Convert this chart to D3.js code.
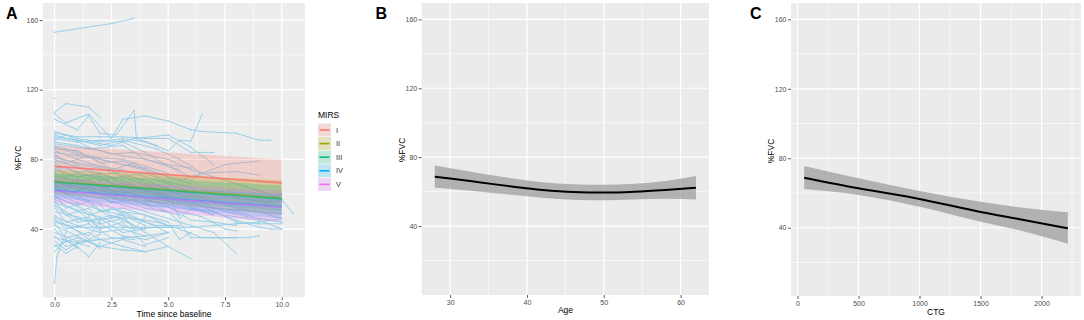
<!DOCTYPE html>
<html>
<head>
<meta charset="utf-8">
<script src="https://cdn.jsdelivr.net/npm/d3@7"></script>
<style>
body { margin: 0; background: #fff; }
svg { display: block; font-family: "Liberation Sans", Arial, sans-serif; }
</style>
</head>
<body>
<div id="chart"></div>
<script>
const width = 1084, height = 320;

// panel A - MIRS groups, fitted lines with ribbons
const mirsLevels = ["I", "II", "III", "IV", "V"];
const mirsColors = ["#F8766D", "#A3A500", "#00BF7D", "#00B0F6", "#E76BF3"];
const mirsTime = [0, 10];
const mirsFit = [[76, 66.5], [67.3, 57.8], [67, 57.3], [62.3, 52.8], [62, 52.5]];
const mirsLo = [[64, 53], [60, 48], [62, 50], [58, 46], [55, 44]];
const mirsHi = [[88, 80], [74, 68], [72, 65], [67, 60], [69, 62]];

// individual trajectories [time, %FVC]
const patients = [
    [[0,153],[2.5,158],[3.5,161]],
    [[0,115]],
    [[0,107],[0.5,112],[1.5,110],[2,104]],
    [[0,106],[0.5,101],[1.5,106],[2.5,92],[3,103],[4,105],[5,102],[6,97],[6.5,96],[8,95],[9,91],[9.5,91]],
    [[0,103],[1,97],[1.5,105],[2,95],[2.7,94],[3.5,108],[3.6,92],[4.5,88]],
    [[0,96],[1,92],[2,90],[3,92],[4,90],[5,85],[5.5,91],[6,90.5],[6.5,106]],
    [[0,95],[1,93],[2,93],[3,93],[4,92],[5,92],[6,84],[7,84]],
    [[0,94],[0.5,92],[1.5,90],[2.5,88],[3.5,92],[5,94],[6,87],[7,77]],
    [[0,93],[1,91],[2,88],[3,91],[4.5,86],[5.5,80],[6.5,72]],
    [[0,92],[1,90],[2,91],[3,90],[4,84],[5,76],[6,70]],
    [[0,91],[0.5,94],[1.5,87],[2.5,83],[3.5,84],[5,80],[6,74],[7,70],[8,66],[9,62],[10,57],[10.5,49]],
    [[0,90],[1,88],[2,85],[3,82],[4,80],[5,77],[6,75]],
    [[0,89],[1.5,86],[3,88],[4,80],[5.5,74]],
    [[0,88],[1,84],[2,80],[3,77],[4,75],[5,70],[6,68],[6.5,72],[7.5,77],[9,79]],
    [[0,87],[1,83],[2,81],[3,80],[4,76],[5,72]],
    [[0,86],[1,85],[2,78],[3,79],[4,74]],
    [[0,85],[1,80],[2,76],[3,74],[4,70],[5,66],[6,61],[7,60],[8,58],[9,56],[10,56]],
    [[0,84],[1,82],[2,80],[3,77],[4.5,72],[5,70],[6,66]],
    [[0,83],[0.5,78],[1.5,82],[2.5,74],[3.5,78],[4.5,70],[5.5,68],[6.5,72],[8,73],[9,71]],
    [[0,82],[1,77],[2,75],[3,70],[4,72],[5,67],[6,64]],
    [[0,81],[1,78],[2,76],[3,71],[4,68],[5,63],[6,60],[7,56],[8,52],[9,50],[10,46]],
    [[0,80],[1,75],[2,71],[3,73],[4,66],[5,64]],
    [[0,79],[1,76],[2,72],[3,68],[4,62],[5,58],[6,55],[7,52],[8,50],[9,46],[10,44]],
    [[0,78],[1,72],[2,70],[3,64],[4,62],[5,60],[5.5,46],[6,52],[7,48]],
    [[0,77],[0.5,70],[1.5,74],[2.5,66],[3.5,64],[4.5,60],[5.5,58],[6.5,55],[7.5,50],[8.5,47],[9.5,45]],
    [[0,76],[1,73],[2,68],[3,70],[4,65],[5,62],[6,58]],
    [[0,75],[1,70],[2,72],[3,66],[4,64],[5,56],[6,52],[7,50],[8,44],[9,43],[10,43]],
    [[0,74],[1,69],[2,64],[3,66],[4,60],[5,58],[6,53],[7,48]],
    [[0,73],[0.5,76],[1.5,68],[2.5,62],[3.5,60],[4.5,55],[5.5,50],[6.5,47],[7.5,40],[8,39]],
    [[0,72],[1,67],[2,70],[3,62],[4,58],[5,56],[6,54],[7,52],[8,51],[9,50],[10,49]],
    [[0,71],[1,66],[2,62],[3,60],[4,56],[5,55]],
    [[0,70],[1,68],[2,65],[2.5,58],[3.5,62],[4,57],[5,54],[6,51],[7,49],[8,47],[9,45],[10,40]],
    [[0,69],[1,64],[2,60],[3,57],[4,54],[5,53],[6,45],[7,44],[8,42]],
    [[0,68],[1,62],[2,66],[3,58],[4,55],[5,50]],
    [[0,67],[1,64],[2,60],[3,56],[4,52],[5,50],[5.5,44],[6,35],[7,35],[8.5,35],[9,36]],
    [[0,66],[0.5,60],[1.5,64],[2.5,55],[3.5,57],[4.5,51],[5.5,48]],
    [[0,65],[1,60],[2,58],[3,54],[4,50],[5,46],[6,42],[7,38],[8,26]],
    [[0,64],[1,58],[2,55],[3,50],[4,48],[5,44],[5.5,34],[6,38]],
    [[0,63],[1,57],[2,54],[2.5,47],[3.5,46],[4.5,44],[5.5,40],[6.5,35],[7.5,35],[8,35]],
    [[0,62],[1,60],[2,50],[3,52],[4,48],[5,42]],
    [[0,61],[1,55],[2,51],[3,48],[3.5,40],[4,47]],
    [[0,60],[0.5,52],[1.5,56],[2.5,46],[3,50],[4,44],[5,38]],
    [[0,59],[1,53],[1.5,48],[2.5,52],[3.5,46],[4.5,42],[5.5,42]],
    [[0,58],[1,54],[2,45],[3,48],[4,42]],
    [[0,57],[1,50],[2,47],[3,42],[3.5,40],[4.5,41],[5,41]],
    [[0,56],[0.5,48],[1.5,52],[2,43],[3,46],[4,38],[5,30]],
    [[0,55],[1,51],[2,40],[3,44],[4,31],[5,35]],
    [[0,54],[1,46],[1.5,44],[2.5,48],[3.5,42]],
    [[0,53],[1,44],[2,46],[3,38],[4,40]],
    [[0,52],[0.5,44],[1.5,47],[2,40]],
    [[0,50],[1,47],[2,43],[3,36],[4,34],[5,38]],
    [[0,48],[0.5,42],[1.5,36],[2,44]],
    [[0,47],[1,42],[2,38],[3,40],[4,36]],
    [[0,46],[0.5,40],[1.5,43],[2.5,35],[3.5,34]],
    [[0,45],[1,39],[1.5,34],[2,37]],
    [[0,44],[1,41],[2,41],[3,41],[4,41],[5,41],[6,41],[7,42],[8,43],[9,44],[10,46]],
    [[0,43],[0.5,35],[1.5,38],[2,34]],
    [[0,42],[1,36],[2,30],[3,34],[4,30]],
    [[0,40],[0.5,33],[1,30],[1.5,24],[2,32]],
    [[0,38],[1,33],[2,34],[3,30],[4,27],[5,30],[6,23]],
    [[0,36],[0.5,30],[1.5,33],[2,29]],
    [[0,35],[1,32],[2,34],[3,35],[4,36],[5,38]],
    [[0,33],[0.5,28],[1,32],[1.5,30]],
    [[0,31],[0.5,26],[1,30]],
    [[0,30],[1,35],[2,30],[3,28],[4,27]],
    [[0,27],[0.5,34],[1,29]],
    [[0,9],[0.1,24],[0.5,38]],
    [[6,56],[7,50],[8,45],[9,41],[9.5,40],[10,40]],
    [[5,62],[6,58],[7,55],[8,54],[9,53],[10,60]]
];

// panel B - age smooth
const ageX = [28, 30, 34, 38, 42, 46, 50, 54, 58, 62];
const ageFit = [68.7, 67.6, 65.3, 63.0, 61.0, 59.8, 59.5, 60.0, 61.0, 62.3];
const ageHi = [75.1, 73.6, 70.6, 67.8, 65.5, 64.3, 64.0, 64.6, 66.2, 69.1];
const ageLo = [62.3, 61.6, 60.0, 58.2, 56.5, 55.3, 55.0, 55.4, 55.8, 55.5];

// panel C - CTG smooth
const ctgX = [55, 500, 1000, 1500, 1800, 2215];
const ctgFit = [68.8, 62.7, 56.6, 49.1, 45.2, 39.7];
const ctgHi = [75.6, 68.5, 61.2, 55.0, 52.0, 48.9];
const ctgLo = [62.3, 58.9, 52.1, 43.5, 38.8, 30.8];

const yTicks = [40, 80, 120, 160];
const yMinor = [20, 60, 100, 140];
const timeTicks = [0, 2.5, 5, 7.5, 10];
const timeMinor = [1.25, 3.75, 6.25, 8.75];
const ageTicks = [30, 40, 50, 60];
const ageMinor = [35, 45, 55];
const ctgTicks = [0, 500, 1000, 1500, 2000];
const ctgMinor = [250, 750, 1250, 1750, 2250];

let svg = d3.select("#chart")
    .append("svg")
    .attr("width", width)
    .attr("height", height);

// draws background, grid, axes; returns a clipped group for the data
function drawPanel(id, x, y, xTicks, xMinor, xFmt, bg) {
    let [x0, x1] = x.range();
    let [y1, y0] = y.range();
    let g = svg.append("g");

    g.append("rect")
        .attr("x", x0).attr("y", y0)
        .attr("width", x1 - x0).attr("height", y1 - y0)
        .attr("fill", bg);

    g.selectAll(".ym").data(yMinor).enter().append("line")
        .attr("x1", x0).attr("x2", x1)
        .attr("y1", d => y(d)).attr("y2", d => y(d))
        .attr("stroke", "#fff").attr("stroke-width", 0.6);
    g.selectAll(".xm").data(xMinor).enter().append("line")
        .attr("y1", y0).attr("y2", y1)
        .attr("x1", d => x(d)).attr("x2", d => x(d))
        .attr("stroke", "#fff").attr("stroke-width", 0.6);
    g.selectAll(".yM").data(yTicks).enter().append("line")
        .attr("x1", x0).attr("x2", x1)
        .attr("y1", d => y(d)).attr("y2", d => y(d))
        .attr("stroke", "#fff").attr("stroke-width", 1.2);
    g.selectAll(".xM").data(xTicks).enter().append("line")
        .attr("y1", y0).attr("y2", y1)
        .attr("x1", d => x(d)).attr("x2", d => x(d))
        .attr("stroke", "#fff").attr("stroke-width", 1.2);

    let ax = g.append("g")
        .attr("transform", `translate(${x0},0)`)
        .call(d3.axisLeft(y).tickValues(yTicks).tickSize(3).tickPadding(1.5));
    let bx = g.append("g")
        .attr("transform", `translate(0,${y1})`)
        .call(d3.axisBottom(x).tickValues(xTicks).tickFormat(xFmt).tickSize(3).tickPadding(2));
    [ax, bx].forEach(a => {
        a.select(".domain").remove();
        a.selectAll("line").attr("stroke", "#333").attr("stroke-width", 0.8);
        a.selectAll("text").attr("fill", "#4d4d4d").style("font-size", "7px")
            .style("font-family", "Liberation Sans, Arial, sans-serif");
    });

    svg.append("clipPath").attr("id", id)
        .append("rect")
        .attr("x", x0).attr("y", y0)
        .attr("width", x1 - x0).attr("height", y1 - y0);

    return svg.append("g").attr("clip-path", `url(#${id})`);
}

function labels(letter, lx, title, tx, ty, yx, yy) {
    svg.append("text")
        .attr("x", lx).attr("y", 19)
        .style("font-size", "16px").style("font-weight", "bold")
        .text(letter);
    svg.append("text")
        .attr("x", tx).attr("y", ty)
        .attr("text-anchor", "middle")
        .style("font-size", "8.5px")
        .text(title);
    svg.append("text")
        .attr("transform", `translate(${yx},${yy}) rotate(-90)`)
        .attr("text-anchor", "middle")
        .attr("dominant-baseline", "central")
        .style("font-size", "8.5px")
        .text("%FVC");
}

// ---- panel A ----
let xA = d3.scaleLinear().domain([-0.525, 11.025]).range([42.7, 305]);
let yA = d3.scaleLinear().domain([0.8, 169.8]).range([297.3, 3]);
let gA = drawPanel("clipA", xA, yA, timeTicks, timeMinor, d3.format(".1f"), "#ecedec");

let lineA = d3.line().x(d => xA(d[0])).y(d => yA(d[1]));
gA.selectAll(".pat").data(patients).enter().append("path")
    .attr("d", lineA)
    .attr("fill", "none")
    .attr("stroke", "#92cbe9")
    .attr("stroke-width", 1)
    .attr("opacity", 0.9);
gA.selectAll(".pt").data(patients.flat()).enter().append("circle")
    .attr("cx", d => xA(d[0])).attr("cy", d => yA(d[1]))
    .attr("r", 0.7)
    .attr("fill", "#92cbe9");

let areaA = d3.area()
    .x(d => xA(d.t)).y0(d => yA(d.lo)).y1(d => yA(d.hi));
mirsLevels.forEach((m, i) => {
    let rows = mirsTime.map((t, j) => ({t: t, lo: mirsLo[i][j], hi: mirsHi[i][j]}));
    gA.append("path")
        .attr("d", areaA(rows))
        .attr("fill", mirsColors[i])
        .attr("opacity", 0.25);
});
// drawing order so that III and V show on top of II and IV, I last
[1, 2, 3, 4, 0].forEach(i => {
    gA.append("path")
        .attr("d", lineA(mirsTime.map((t, j) => [t, mirsFit[i][j]])))
        .attr("fill", "none")
        .attr("stroke", mirsColors[i])
        .attr("stroke-width", 1.6)
        .attr("opacity", i === 0 ? 0.9 : 0.7);
});
labels("A", 6, "Time since baseline", 174, 317, 18, 158);

// legend
svg.append("text")
    .attr("x", 318).attr("y", 118)
    .style("font-size", "8.5px")
    .text("MIRS");
mirsLevels.forEach((m, i) => {
    let ky = 123.5 + i * 13.6;
    svg.append("rect")
        .attr("x", 318).attr("y", ky).attr("width", 13).attr("height", 13)
        .attr("fill", "#f2f2f2");
    svg.append("rect")
        .attr("x", 318).attr("y", ky).attr("width", 13).attr("height", 13)
        .attr("fill", mirsColors[i]).attr("opacity", 0.2);
    svg.append("line")
        .attr("x1", 319.5).attr("x2", 329.5)
        .attr("y1", ky + 6.5).attr("y2", ky + 6.5)
        .attr("stroke", mirsColors[i]).attr("stroke-width", 1.6);
    svg.append("text")
        .attr("x", 336).attr("y", ky + 6.5)
        .attr("dominant-baseline", "central")
        .attr("fill", "#333")
        .style("font-size", "7.5px")
        .text(m);
});

// ---- panel B ----
let xB = d3.scaleLinear().domain([26.3, 63.7]).range([421.7, 709]);
let yB = d3.scaleLinear().domain([0, 169.5]).range([295, 3]);
let gB = drawPanel("clipB", xB, yB, ageTicks, ageMinor, d3.format("d"), "#ebebeb");

gB.append("path")
    .attr("d", d3.area().curve(d3.curveMonotoneX)
        .x((d, i) => xB(ageX[i])).y0((d, i) => yB(ageLo[i])).y1((d, i) => yB(ageHi[i]))(ageX))
    .attr("fill", "#999").attr("opacity", 0.7);
gB.append("path")
    .attr("d", d3.line().curve(d3.curveMonotoneX)
        .x((d, i) => xB(ageX[i])).y((d, i) => yB(ageFit[i]))(ageX))
    .attr("fill", "none").attr("stroke", "#000").attr("stroke-width", 2);
labels("B", 375.5, "Age", 565.5, 313, 401.7, 150);

// ---- panel C ----
let xC = d3.scaleLinear().domain([-53, 2323]).range([791, 1081]);
let yC = d3.scaleLinear().domain([0.7, 169.4]).range([296, 3]);
let gC = drawPanel("clipC", xC, yC, ctgTicks, ctgMinor, d3.format("d"), "#ebebeb");

gC.append("path")
    .attr("d", d3.area().curve(d3.curveMonotoneX)
        .x((d, i) => xC(ctgX[i])).y0((d, i) => yC(ctgLo[i])).y1((d, i) => yC(ctgHi[i]))(ctgX))
    .attr("fill", "#999").attr("opacity", 0.7);
gC.append("path")
    .attr("d", d3.line().curve(d3.curveMonotoneX)
        .x((d, i) => xC(ctgX[i])).y((d, i) => yC(ctgFit[i]))(ctgX))
    .attr("fill", "none").attr("stroke", "#000").attr("stroke-width", 2);
labels("C", 750, "CTG", 936, 315, 770.7, 151);
</script>
</body>
</html>
